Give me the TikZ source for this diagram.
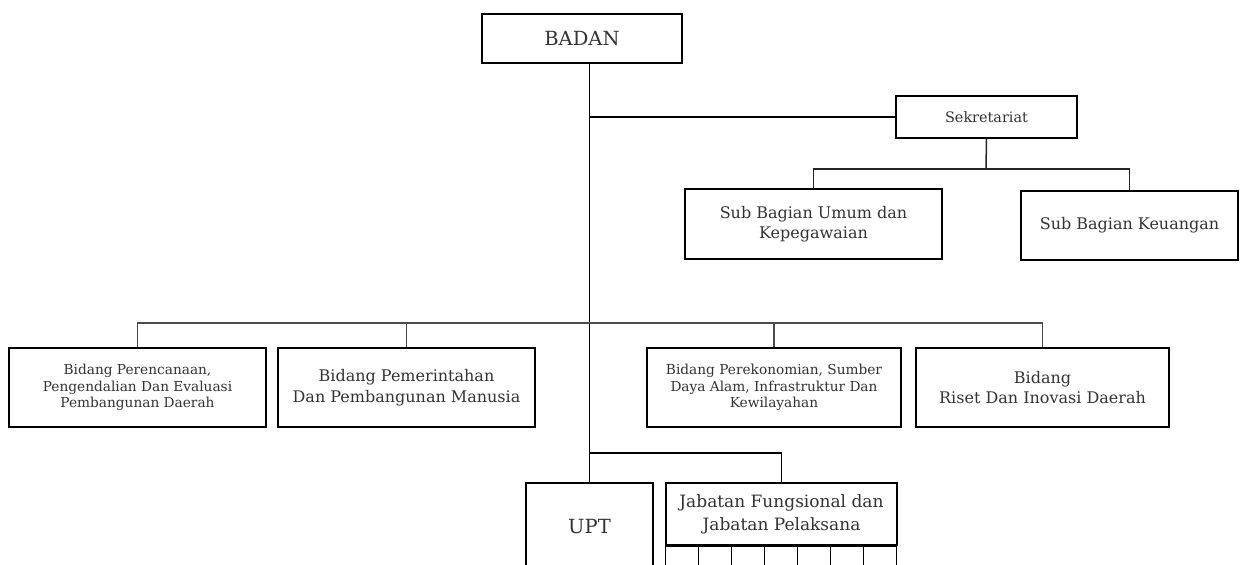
\documentclass[tikz,border=0pt]{standalone}
\usepackage{fontspec}
\setmainfont{DejaVu Serif}
\usetikzlibrary{positioning, calc}

\begin{document}
\begin{tikzpicture}[
		x=1pt, y=-1pt,
		% Boxes of the organisation chart (width, height in pt)
		unitbox/.style 2 args={
				rectangle, draw=black, line width=1.7pt, fill=white,
				minimum width=#1pt, minimum height=#2pt,
				inner sep=2pt, align=center, text=black!80
			},
		% Small cells under the functional positions box
		cellbox/.style={
				rectangle, draw=black, line width=1.3pt, fill=white,
				minimum width=33pt, minimum height=34pt, inner sep=0pt
			},
		% Fonts
		hugefont/.style={font=\fontsize{19.5}{24}\selectfont},
		bigfont/.style={font=\fontsize{17}{23}\selectfont},
		midfont/.style={font=\fontsize{16}{20.5}\selectfont},
		sekfont/.style={font=\fontsize{14.4}{18}\selectfont},
		smallfont/.style={font=\fontsize{13.7}{16.8}\selectfont},
		% Connectors
		mainline/.style={draw=black, line width=1.9pt},
		linkline/.style={draw=black!85, line width=1.5pt},
		thinline/.style={draw=black!70, line width=1.2pt}
	]

	% canvas of the reference size
	\clip (0,0) rectangle (1243,565);
	\fill[white] (0,0) rectangle (1243,565);

	% ==========================================
	% 1. HEAD AND SECRETARIAT
	% ==========================================
	\node[unitbox={200}{49}, hugefont] (badan) at (582, 38.5) {BADAN};
	\node[unitbox={181}{42}, sekfont] (sekretariat) at (986.5, 117) {Sekretariat};

	\node[unitbox={257}{70}, midfont] (subumum) at (813.5, 224) {Sub Bagian Umum dan\\Kepegawaian};
	\node[unitbox={217}{69}, midfont] (subkeu) at (1129.5, 225.5) {Sub Bagian Keuangan};

	% ==========================================
	% 2. BIDANG ROW
	% ==========================================
	\node[unitbox={257}{79}, smallfont] (bidrenc) at (137.5, 387.5)
	{Bidang Perencanaan,\\Pengendalian Dan Evaluasi\\Pembangunan Daerah};
	\node[unitbox={257}{79}, midfont] (bidpem) at (406.5, 387.5)
	{Bidang Pemerintahan\\Dan Pembangunan Manusia};
	\node[unitbox={254}{79}, smallfont] (bidek) at (774, 387.5)
	{Bidang Perekonomian, Sumber\\Daya Alam, Infrastruktur Dan\\Kewilayahan};
	\node[unitbox={253}{79}, midfont] (bidriset) at (1042.5, 387.5)
	{Bidang\\Riset Dan Inovasi Daerah};

	% ==========================================
	% 3. UPT AND FUNCTIONAL POSITIONS
	% ==========================================
	\node[unitbox={127}{88}, hugefont] (upt) at (589.5, 527) {UPT};
	\node[unitbox={231}{62}, bigfont] (jabatan) at (781.5, 514)
	{Jabatan Fungsional dan\\Jabatan Pelaksana};
	\foreach \i in {0,...,6}
	\node[cellbox, anchor=north west] (cell\i) at ($(jabatan.south west)+(\i*33,0)$) {};

	% ==========================================
	% 4. CONNECTORS
	% ==========================================
	\coordinate (sekbar) at (986, 169);
	\coordinate (bidbar) at (589, 323);
	\coordinate (uptbar) at (589, 453);

	% main vertical line
	\draw[mainline] (badan.south -| upt.north) -- (upt.north);

	% to the secretariat and its sub-parts
	\draw[mainline] (sekretariat.west -| upt.north) -- (sekretariat.west);
	\draw[linkline] (sekretariat.south) -- (sekbar);
	\draw[linkline] (subumum.north) |- (sekbar) -| (subkeu.north);

	% to the four bidang
	\draw[thinline] (bidrenc.north) |- (bidbar) -| (bidriset.north);
	\draw[thinline] (bidpem.north) -- (bidpem.north |- bidbar);
	\draw[thinline] (bidek.north) -- (bidek.north |- bidbar);

	% to the functional positions
	\draw[mainline] (uptbar) -| (jabatan.north);

\end{tikzpicture}
\end{document}
